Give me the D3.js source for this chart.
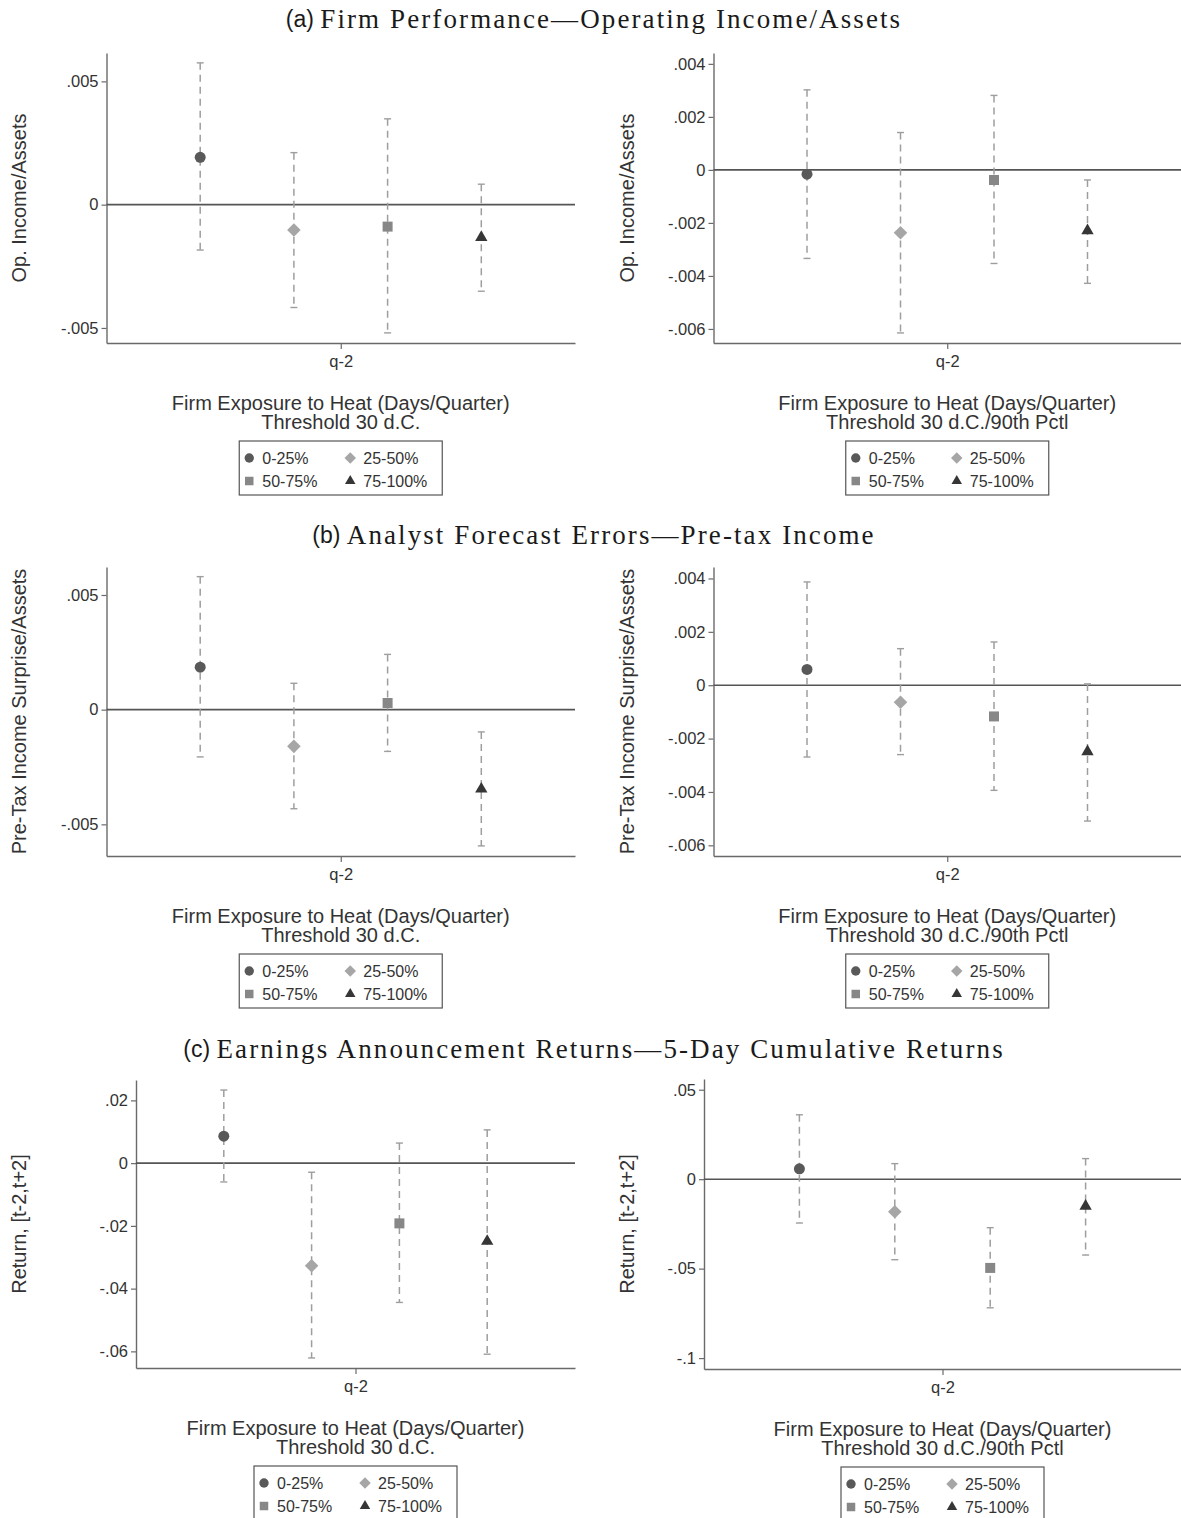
<!DOCTYPE html>
<html><head><meta charset="utf-8">
<script src="https://cdn.jsdelivr.net/npm/d3@7"></script>
<style>body{margin:0;background:#fff} svg{display:block}</style>
</head><body>
<script>
// ---------- DATA ----------
const groups = ["0-25%", "25-50%", "50-75%", "75-100%"];
const xCategory = ["q-2"];

const panelTitles = [
  ["(a) ", "Firm Performance\u2014Operating Income/Assets"],
  ["(b) ", "Analyst Forecast Errors\u2014Pre-tax Income"],
  ["(c) ", "Earnings Announcement Returns\u20145-Day Cumulative Returns"]
];
const xTitleLine1 = "Firm Exposure to Heat (Days/Quarter)";
const xTitleLeft2 = "Threshold 30 d.C.";
const xTitleRight2 = "Threshold 30 d.C./90th Pctl";
const yTitleA = "Op. Income/Assets";
const yTitleB = "Pre-Tax Income Surprise/Assets";
const yTitleC = "Return, [t-2,t+2]";

// (a) left
const aLeftEst = [0.00192, -0.00103, -0.00089, -0.00133];
const aLeftLo  = [-0.00184, -0.00417, -0.00520, -0.00351];
const aLeftHi  = [0.00575, 0.00211, 0.00348, 0.00083];
const aLeftTicks = [0.005, 0, -0.005];
const aLeftTickLabels = [".005", "0", "-.005"];
// (a) right
const aRightEst = [-0.00016, -0.00237, -0.00038, -0.00229];
const aRightLo  = [-0.00334, -0.00615, -0.00353, -0.00428];
const aRightHi  = [0.00302, 0.00141, 0.00281, -0.00038];
const aRightTicks = [0.004, 0.002, 0, -0.002, -0.004, -0.006];
const aRightTickLabels = [".004", ".002", "0", "-.002", "-.004", "-.006"];
// (b) left
const bLeftEst = [0.00185, -0.00160, 0.00029, -0.00346];
const bLeftLo  = [-0.00206, -0.00432, -0.00182, -0.00594];
const bLeftHi  = [0.00580, 0.00115, 0.00241, -0.00097];
const bLeftTicks = [0.005, 0, -0.005];
const bLeftTickLabels = [".005", "0", "-.005"];
// (b) right
const bRightEst = [0.00059, -0.00064, -0.00117, -0.00249];
const bRightLo  = [-0.00269, -0.00260, -0.00394, -0.00509];
const bRightHi  = [0.00387, 0.00137, 0.00162, 0.00005];
const bRightTicks = [0.004, 0.002, 0, -0.002, -0.004, -0.006];
const bRightTickLabels = [".004", ".002", "0", "-.002", "-.004", "-.006"];
// (c) left
const cLeftEst = [0.0086, -0.0327, -0.0192, -0.0249];
const cLeftLo  = [-0.0060, -0.0621, -0.0444, -0.0609];
const cLeftHi  = [0.0233, -0.0029, 0.0064, 0.0106];
const cLeftTicks = [0.02, 0, -0.02, -0.04, -0.06];
const cLeftTickLabels = [".02", "0", "-.02", "-.04", "-.06"];
// (c) right
const cRightEst = [0.0058, -0.0182, -0.0496, -0.0151];
const cRightLo  = [-0.0245, -0.0450, -0.0719, -0.0424];
const cRightHi  = [0.0360, 0.0087, -0.0271, 0.0115];
const cRightTicks = [0.05, 0, -0.05, -0.1];
const cRightTickLabels = [".05", "0", "-.05", "-.1"];

// ---------- LAYOUT ----------
const W = 1181, H = 1518;
const svg = d3.select("body").append("svg").attr("width", W).attr("height", H);

const markerColors = ["#595959", "#a6a6a6", "#878787", "#363636"];
const ciColor = "#9e9e9e";
const axisColor = "#6a6a6a";
const textColor = "#333";
const sansFont = "'Liberation Sans', Arial, sans-serif";

function symbolPath(i, s) {
  if (i === 0) return d3.symbol(d3.symbolCircle, 95 * s * s)();
  if (i === 1) return d3.symbol(d3.symbolSquare, 92 * s * s)();
  if (i === 2) return d3.symbol(d3.symbolSquare, 100 * s * s)();
  return d3.symbol(d3.symbolTriangle, 66 * s * s)();
}
function symbolRotate(i) { return i === 1 ? " rotate(45)" : ""; }

const titleY = [19, 535, 1049];
titleY.forEach((ty, k) => {
  const t = svg.append("text").attr("x", 594).attr("y", ty)
    .attr("text-anchor", "middle").attr("dominant-baseline", "central")
    .attr("fill", "#1a1a1a");
  t.append("tspan").attr("font-family", sansFont).attr("font-size", 23).text(panelTitles[k][0]);
  t.append("tspan").attr("font-family", "'Liberation Serif','Times New Roman', serif")
    .attr("font-size", 27).attr("letter-spacing", 2.1).text(panelTitles[k][1]);
});

const panels = [
  {x0:106.5, x1:575, y0:53, y1:343, dom:[-0.00561, 0.00615], est:aLeftEst, lo:aLeftLo, hi:aLeftHi, ticks:aLeftTicks, labels:aLeftTickLabels, ytitle:yTitleA, ytx:19, xt2:xTitleLeft2},
  {x0:713.5, x1:1181, y0:53, y1:343, dom:[-0.00653, 0.00441], est:aRightEst, lo:aRightLo, hi:aRightHi, ticks:aRightTicks, labels:aRightTickLabels, ytitle:yTitleA, ytx:627, xt2:xTitleRight2},
  {x0:106.5, x1:575, y0:567, y1:856, dom:[-0.00638, 0.00622], est:bLeftEst, lo:bLeftLo, hi:bLeftHi, ticks:bLeftTicks, labels:bLeftTickLabels, ytitle:yTitleB, ytx:19, xt2:xTitleLeft2},
  {x0:713.5, x1:1181, y0:567, y1:856, dom:[-0.00640, 0.00443], est:bRightEst, lo:bRightLo, hi:bRightHi, ticks:bRightTicks, labels:bRightTickLabels, ytitle:yTitleB, ytx:627, xt2:xTitleRight2},
  {x0:136, x1:575, y0:1080, y1:1368, dom:[-0.0653, 0.0265], est:cLeftEst, lo:cLeftLo, hi:cLeftHi, ticks:cLeftTicks, labels:cLeftTickLabels, ytitle:yTitleC, ytx:19, xt2:xTitleLeft2},
  {x0:704, x1:1181, y0:1079, y1:1369, dom:[-0.1061, 0.0560], est:cRightEst, lo:cRightLo, hi:cRightHi, ticks:cRightTicks, labels:cRightTickLabels, ytitle:yTitleC, ytx:627, xt2:xTitleRight2}
];

panels.forEach(p => {
  const g = svg.append("g");
  const y = d3.scaleLinear().domain(p.dom).range([p.y1, p.y0]);
  const xg = d3.scalePoint().domain(groups).range([p.x0, p.x1]).padding(1);
  const xc = d3.scalePoint().domain(xCategory).range([p.x0, p.x1]).padding(0.5);

  const labelMap = new Map(p.ticks.map((t, i) => [t, p.labels[i]]));
  const ya = g.append("g").attr("transform", `translate(${p.x0},0)`)
    .call(d3.axisLeft(y).tickValues(p.ticks).tickFormat(d => labelMap.get(d)).tickSize(5).tickSizeOuter(0).tickPadding(3));
  ya.select(".domain").attr("stroke", axisColor).attr("stroke-width", 1.4);
  ya.selectAll(".tick line").attr("stroke", axisColor).attr("stroke-width", 1.2);
  ya.selectAll(".tick text").attr("font-family", sansFont).attr("font-size", 16.5).attr("fill", textColor);

  const xa = g.append("g").attr("transform", `translate(0,${p.y1})`)
    .call(d3.axisBottom(xc).tickSize(6).tickSizeOuter(0).tickPadding(6));
  xa.select(".domain").attr("stroke", axisColor).attr("stroke-width", 1.4);
  xa.selectAll(".tick line").attr("stroke", axisColor).attr("stroke-width", 1.2);
  xa.selectAll(".tick text").attr("font-family", sansFont).attr("font-size", 16.5).attr("fill", textColor);

  g.append("line").attr("x1", p.x0).attr("x2", p.x1).attr("y1", y(0)).attr("y2", y(0))
    .attr("stroke", "#555").attr("stroke-width", 1.6);

  groups.forEach((gr, i) => {
    const cx = xg(gr);
    g.append("line").attr("x1", cx).attr("x2", cx).attr("y1", y(p.hi[i])).attr("y2", y(p.lo[i]))
      .attr("stroke", ciColor).attr("stroke-width", 1.5).attr("stroke-dasharray", "7,5");
    [p.hi[i], p.lo[i]].forEach(v => {
      g.append("line").attr("x1", cx - 3.5).attr("x2", cx + 3.5).attr("y1", y(v)).attr("y2", y(v))
        .attr("stroke", ciColor).attr("stroke-width", 1.4);
    });
  });
  groups.forEach((gr, i) => {
    g.append("path").attr("d", symbolPath(i, 1))
      .attr("transform", `translate(${xg(gr)},${y(p.est[i])})${symbolRotate(i)}`)
      .attr("fill", markerColors[i]);
  });

  const ymid = (p.y0 + p.y1) / 2;
  g.append("text").attr("transform", `translate(${p.ytx},${ymid}) rotate(-90)`)
    .attr("text-anchor", "middle").attr("dominant-baseline", "central")
    .attr("font-family", sansFont).attr("font-size", 20).attr("fill", textColor).text(p.ytitle);

  const cxm = (p.x0 + p.x1) / 2;
  g.append("text").attr("x", cxm).attr("y", p.y1 + 60).attr("text-anchor", "middle").attr("dominant-baseline", "central")
    .attr("font-family", sansFont).attr("font-size", 20).attr("fill", textColor).text(xTitleLine1);
  g.append("text").attr("x", cxm).attr("y", p.y1 + 79).attr("text-anchor", "middle").attr("dominant-baseline", "central")
    .attr("font-family", sansFont).attr("font-size", 20).attr("fill", textColor).text(p.xt2);

  const lg = g.append("g").attr("transform", `translate(${cxm - 101.5},${p.y1 + 98})`);
  lg.append("rect").attr("x", 0).attr("y", 0).attr("width", 203).attr("height", 54)
    .attr("fill", "#fff").attr("stroke", "#555").attr("stroke-width", 1.2);
  groups.forEach((gr, i) => {
    const col = i % 2, row = Math.floor(i / 2);
    const mx = col === 0 ? 10 : 111, my = row === 0 ? 17 : 40;
    lg.append("path").attr("d", symbolPath(i, 0.85))
      .attr("transform", `translate(${mx},${my})${symbolRotate(i)}`).attr("fill", markerColors[i]);
    lg.append("text").attr("x", mx + 13).attr("y", my).attr("dominant-baseline", "central")
      .attr("font-family", sansFont).attr("font-size", 16).attr("fill", textColor).text(gr);
  });
});
</script>
</body></html>
